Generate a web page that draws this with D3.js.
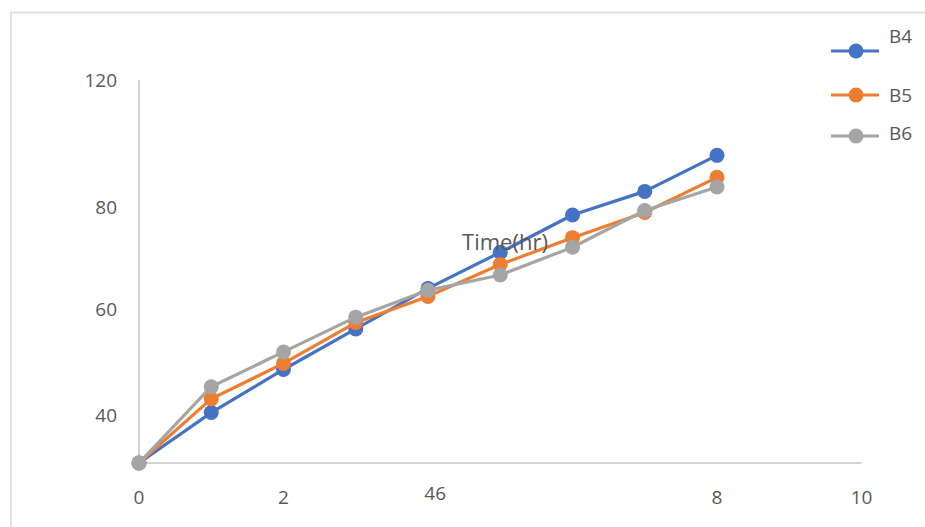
<!DOCTYPE html>
<html>
<head>
<meta charset="utf-8">
<script src="https://cdn.jsdelivr.net/npm/d3@7"></script>
<style>
  html, body { margin: 0; padding: 0; background: #fff; }
  svg { display: block; font-family: "Open Sans", Lato, sans-serif; }
</style>
</head>
<body>
<svg id="chart" width="925" height="527"></svg>
<script>
// Release over time for three batches
const hours = [0, 1, 2, 3, 4, 5, 6, 7, 8];
const seriesNames = ["B4", "B5", "B6"];
const b4 = [0, 15.8, 29.3, 42.0, 54.7, 66.0, 77.7, 85.1, 96.4];
const b5 = [0, 20.1, 31.2, 44.0, 52.2, 62.2, 70.6, 78.5, 89.5];
const b6 = [0, 23.9, 34.8, 45.7, 54.1, 58.9, 67.6, 79.1, 86.5];
const colors = ["#4472C4", "#ED7D31", "#A5A5A5"];

// Axis labels as printed, with the value each one sits at
const xTickLabels = ["0", "2", "46", "8", "10"];
const xTickAt = [0, 2, 4.1, 8, 10];
const yTickLabels = ["120", "80", "60", "40"];
const yTickAt = [120, 80, 48.2, 15.0];
const titleText = "Time(hr)";

const svg = d3.select("#chart");

// chart frame
svg.append("rect")
  .attr("x", 11).attr("y", 12.5)
  .attr("width", 940).attr("height", 540)
  .attr("fill", "none").attr("stroke", "#d9d9d9").attr("stroke-width", 1.5);

const x = d3.scaleLinear().domain([0, 10]).range([139, 861.5]);
const y = d3.scaleLinear().domain([0, 120]).range([463, 80]);

// axes lines
svg.append("line")
  .attr("x1", x(0)).attr("x2", x(10)).attr("y1", y(0)).attr("y2", y(0))
  .attr("stroke", "#c4c4c4").attr("stroke-width", 1.5);
svg.append("line")
  .attr("x1", x(0)).attr("x2", x(0)).attr("y1", y(0)).attr("y2", y(120))
  .attr("stroke", "#c4c4c4").attr("stroke-width", 1.5);

// x tick labels
svg.append("g").selectAll("text")
  .data(xTickLabels)
  .join("text")
  .attr("x", (d, i) => x(xTickAt[i]))
  .attr("y", (d, i) => d === "46" ? 500 : 504)
  .attr("text-anchor", "middle")
  .attr("font-size", 19)
  .attr("fill", "#595959")
  .text(d => d);

// y tick labels
svg.append("g").selectAll("text")
  .data(yTickLabels)
  .join("text")
  .attr("x", 117)
  .attr("y", (d, i) => y(yTickAt[i]))
  .attr("dy", "0.35em")
  .attr("text-anchor", "end")
  .attr("font-size", 19)
  .attr("fill", "#595959")
  .text(d => d);

// series lines and markers
const allSeries = [b4, b5, b6];
const line = d3.line().x((d, i) => x(hours[i])).y(d => y(d));

allSeries.forEach((vals, s) => {
  const g = svg.append("g");
  g.append("path")
    .attr("d", line(vals))
    .attr("fill", "none")
    .attr("stroke", colors[s])
    .attr("stroke-width", 3.2)
    .attr("stroke-linejoin", "round");
  g.selectAll("circle")
    .data(vals)
    .join("circle")
    .attr("cx", (d, i) => x(hours[i]))
    .attr("cy", d => y(d))
    .attr("r", 7.5)
    .attr("fill", colors[s]);
});

// title placed over the plot
svg.append("text")
  .attr("x", 505).attr("y", 242)
  .attr("dy", "0.35em")
  .attr("text-anchor", "middle")
  .attr("font-size", 22)
  .attr("fill", "#595959")
  .text(titleText);

// legend
const legendLineY = [51, 95, 136];
const legendTextY = [36, 95, 133];
seriesNames.forEach((name, s) => {
  const g = svg.append("g");
  g.append("line")
    .attr("x1", 831).attr("x2", 879)
    .attr("y1", legendLineY[s]).attr("y2", legendLineY[s])
    .attr("stroke", colors[s]).attr("stroke-width", 3.2);
  g.append("circle")
    .attr("cx", 856).attr("cy", legendLineY[s]).attr("r", 7.5)
    .attr("fill", colors[s]);
  g.append("text")
    .attr("x", 889).attr("y", legendTextY[s])
    .attr("dy", "0.35em")
    .attr("font-size", 19)
    .attr("fill", "#595959")
    .text(name);
});
</script>
</body>
</html>
